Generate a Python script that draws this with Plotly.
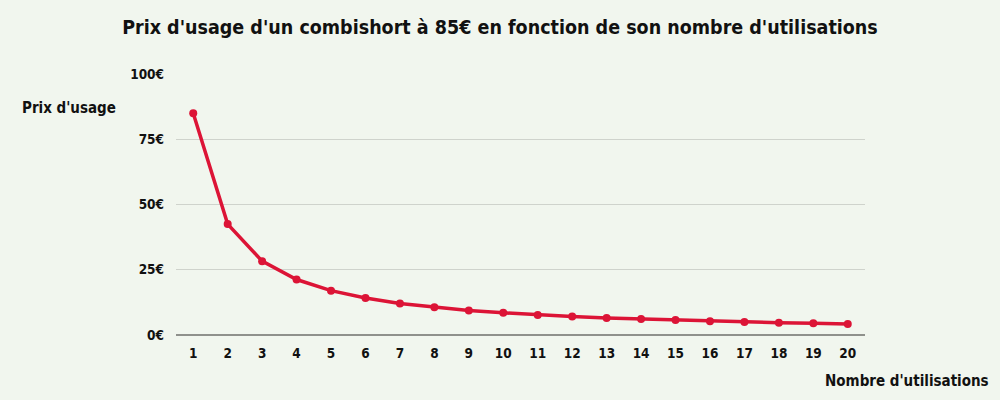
import plotly.graph_objects as go

# data
utilisations = list(range(1, 21))
prix_usage = [85, 42.5, 28.3, 21.25, 17, 14.2, 12.1, 10.6, 9.4, 8.5,
              7.7, 7.1, 6.5, 6.1, 5.7, 5.3, 5.0, 4.7, 4.5, 4.25]
y_ticks = [0, 25, 50, 75, 100]
y_labels = [f"{v}€" for v in y_ticks]

FONT = "DejaVu Sans Condensed, sans-serif"
RED = "#dc1436"
BG = "#f1f6ee"

x_cats = [str(u) for u in utilisations]

fig = go.Figure()
fig.add_trace(go.Scatter(
    x=x_cats,
    y=prix_usage,
    mode="lines+markers",
    line=dict(color=RED, width=3.5),
    marker=dict(color=RED, size=8),
    hoverinfo="x+y",
    showlegend=False,
))

fig.update_layout(
    width=1000, height=400,
    paper_bgcolor=BG, plot_bgcolor=BG,
    margin=dict(l=176, r=135, t=74, b=65),
    font=dict(family=FONT, color="#111111", size=13),
    title=dict(
        text="<b>Prix d'usage d'un combishort à 85€ en fonction de son nombre d'utilisations</b>",
        x=0.5, xanchor="center", y=0.932, yanchor="middle",
        font=dict(family=FONT, size=19.5, color="#111111"),
    ),
)
fig.update_xaxes(
    type="category", range=[-0.5, 19.5],
    tickvals=x_cats, ticktext=[f"<b>{c}</b>" for c in x_cats],
    showgrid=False, showline=False, zeroline=False, ticks="",
    tickfont=dict(family=FONT, size=13.5),
    ticklabelstandoff=8,
)
fig.update_yaxes(
    range=[0, 100], tickvals=y_ticks, ticktext=[f"<b>{t}</b>" for t in y_labels],
    showgrid=True, gridcolor="#cfd3cc", gridwidth=1,
    zeroline=True, zerolinecolor="#8f918c", zerolinewidth=1.5,
    showline=False, ticks="",
    tickfont=dict(family=FONT, size=13.5),
    ticklabelstandoff=11,
)

fig.add_annotation(
    text="<b>Prix d'usage</b>", xref="paper", yref="paper",
    x=-0.226, y=0.87, xanchor="left", yanchor="middle", showarrow=False,
    font=dict(family=FONT, size=15, color="#111111"),
)
fig.add_annotation(
    text="<b>Nombre d'utilisations</b>", xref="paper", yref="paper",
    x=1.183, y=-0.175, xanchor="right", yanchor="middle", showarrow=False,
    font=dict(family=FONT, size=15, color="#111111"),
)

fig.write_html(
    "out.html",
    config={"displayModeBar": False},
    post_script="document.body.style.margin='0';",
)
